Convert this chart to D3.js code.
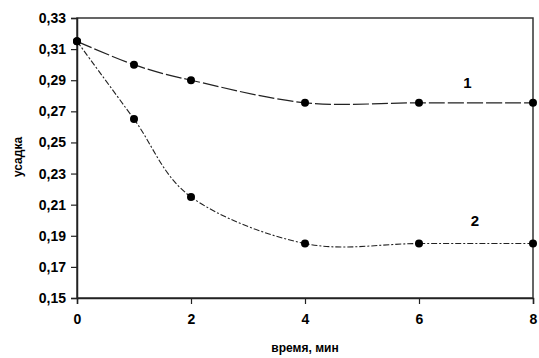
<!DOCTYPE html>
<html>
<head>
<meta charset="utf-8">
<script src="https://cdn.jsdelivr.net/npm/d3@7"></script>
<style>
  body { margin: 0; background: #fff; }
  svg { font-family: Arial, "Liberation Sans", sans-serif; }
</style>
</head>
<body>
<svg id="chart" width="539" height="358"></svg>
<script>
const times = [0, 1, 2, 4, 6, 8];
const series1 = [0.315, 0.300, 0.290, 0.2755, 0.2755, 0.2755];
const series2 = [0.315, 0.265, 0.215, 0.185, 0.185, 0.185];
const xTicks = [0, 2, 4, 6, 8];
const yTicks = [0.15, 0.17, 0.19, 0.21, 0.23, 0.25, 0.27, 0.29, 0.31, 0.33];

const margin = {top: 18, right: 6, bottom: 60, left: 77};
const width = 539 - margin.left - margin.right;
const height = 358 - margin.top - margin.bottom;

const svg = d3.select("#chart");
const g = svg.append("g").attr("transform", `translate(${margin.left},${margin.top})`);

const x = d3.scaleLinear().domain([0, 8]).range([0, width]);
const y = d3.scaleLinear().domain([0.15, 0.33]).range([height, 0]);

// frame
g.append("rect")
    .attr("width", width).attr("height", height)
    .attr("fill", "none").attr("stroke", "#333").attr("stroke-width", 1.5);

const fmt = d => d3.format(".2f")(d).replace(".", ",");

const xAxis = g.append("g")
    .attr("transform", `translate(0,${height})`)
    .call(d3.axisBottom(x).tickValues(xTicks).tickSize(6).tickPadding(10).tickFormat(d3.format("d")));
const yAxis = g.append("g")
    .call(d3.axisLeft(y).tickValues(yTicks).tickSize(6).tickPadding(5).tickFormat(fmt));

[xAxis, yAxis].forEach(a => {
    a.select(".domain").attr("stroke", "#222").attr("stroke-width", 1.5);
    a.selectAll(".tick line").attr("stroke", "#222").attr("stroke-width", 1.2);
    a.selectAll(".tick text").attr("fill", "#000").attr("font-size", 14).attr("font-weight", "bold");
});
xAxis.selectAll(".tick line").attr("y2", 6);

const line = d3.line()
    .x((d, i) => x(times[i]))
    .y(d => y(d))
    .curve(d3.curveCardinal.tension(0));

g.append("path").datum(series1)
    .attr("d", line).attr("fill", "none")
    .attr("stroke", "#222").attr("stroke-width", 1.2)
    .attr("stroke-dasharray", "16,3");
g.append("path").datum(series2)
    .attr("d", line).attr("fill", "none")
    .attr("stroke", "#222").attr("stroke-width", 1.1)
    .attr("stroke-dasharray", "6,2,2,2");

[series1, series2].forEach(s => {
    g.selectAll(null).data(s).enter().append("circle")
        .attr("cx", (d, i) => x(times[i]))
        .attr("cy", d => y(d))
        .attr("r", 4).attr("fill", "#000");
});

// series labels
g.append("text").attr("x", x(6.85)).attr("y", y(0.285))
    .attr("text-anchor", "middle").attr("font-size", 15).attr("font-weight", "bold").text("1");
g.append("text").attr("x", x(6.98)).attr("y", y(0.1963))
    .attr("text-anchor", "middle").attr("font-size", 15).attr("font-weight", "bold").text("2");

// axis titles
svg.append("text")
    .attr("x", margin.left + x(4)).attr("y", 352)
    .attr("text-anchor", "middle").attr("font-size", 12).attr("font-weight", "bold")
    .text("время, мин");
svg.append("text")
    .attr("transform", "translate(22,157) rotate(-90)")
    .attr("text-anchor", "middle").attr("font-size", 12).attr("font-weight", "bold")
    .text("усадка");
</script>
</body>
</html>
